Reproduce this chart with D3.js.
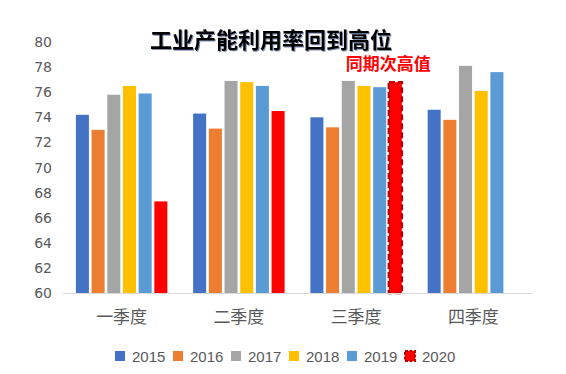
<!DOCTYPE html>
<html>
<head>
<meta charset="utf-8">
<script src="https://cdn.jsdelivr.net/npm/d3@7"></script>
<style>
  html, body { margin: 0; padding: 0; background: #fff; }
  svg { display: block; }
  text { font-family: "Noto Sans CJK SC", "Liberation Sans", sans-serif; }
</style>
</head>
<body>
<script>
// categories and series
const quarters = ["一季度", "二季度", "三季度", "四季度"];
const years = ["2015", "2016", "2017", "2018", "2019", "2020"];
const colors = ["#4472c4", "#ed7d31", "#a5a5a5", "#ffc000", "#5b9bd5", "#ff0000"];

const v2015 = [74.2, 74.3, 74.0, 74.6];
const v2016 = [73.0, 73.1, 73.2, 73.8];
const v2017 = [75.8, 76.9, 76.9, 78.1];
const v2018 = [76.5, 76.8, 76.5, 76.1];
const v2019 = [75.9, 76.5, 76.4, 77.6];
const v2020 = [67.3, 74.5, 76.8, null];
const series = [v2015, v2016, v2017, v2018, v2019, v2020];

const yTicks = [60, 62, 64, 66, 68, 70, 72, 74, 76, 78, 80];

const title = "工业产能利用率回到高位";
const note = "同期次高值";

const width = 566;
const height = 374;
const plot = { left: 63, right: 532, top: 42, bottom: 293 };

const svg = d3.select("body").append("svg").attr("width", width).attr("height", height);

const defs = svg.append("defs");
defs.append("filter")
  .attr("id", "shadow")
  .attr("x", "-5%").attr("y", "-20%").attr("width", "110%").attr("height", "140%")
  .append("feDropShadow")
  .attr("dx", 1).attr("dy", 1).attr("stdDeviation", 0.6)
  .attr("flood-color", "#1f3864").attr("flood-opacity", 0.55);

// scales
const x0 = d3.scaleBand().domain(quarters).range([plot.left, plot.right])
  .paddingInner(0.22).paddingOuter(0.11);
const x1 = d3.scaleBand().domain(years).range([0, x0.bandwidth()]).paddingInner(0.17);
const y = d3.scaleLinear().domain([60, 80]).range([plot.bottom, plot.top]);

// y axis labels
svg.append("g")
  .selectAll("text")
  .data(yTicks)
  .join("text")
  .attr("x", 52)
  .attr("y", (d) => y(d))
  .attr("dy", "0.36em")
  .attr("text-anchor", "end")
  .attr("fill", "#595959")
  .attr("font-size", 14)
  .style("font-family", "'DejaVu Sans', sans-serif")
  .text((d) => d);

// bars
const group = svg.append("g")
  .selectAll("g")
  .data(quarters)
  .join("g")
  .attr("transform", (d) => `translate(${x0(d)},0)`);

group.selectAll("rect")
  .data((q, qi) => years.map((yr, si) => ({ yr, si, qi, v: series[si][qi] })).filter((d) => d.v != null))
  .join("rect")
  .attr("x", (d) => x1(d.yr))
  .attr("y", (d) => y(d.v))
  .attr("width", x1.bandwidth())
  .attr("height", (d) => y(60) - y(d.v))
  .attr("fill", (d) => colors[d.si])
  .attr("stroke", (d) => (d.yr === "2020" && d.qi === 2 ? "#c00000" : "none"))
  .attr("stroke-width", 2.5)
  .attr("stroke-dasharray", "6,3");

// x axis line
svg.append("line")
  .attr("x1", plot.left).attr("x2", plot.right)
  .attr("y1", plot.bottom + 0.5).attr("y2", plot.bottom + 0.5)
  .attr("stroke", "#d9d9d9").attr("stroke-width", 1);

// x labels
svg.append("g")
  .selectAll("text")
  .data(quarters)
  .join("text")
  .attr("x", (d) => x0(d) + x0.bandwidth() / 2)
  .attr("y", 323)
  .attr("text-anchor", "middle")
  .attr("fill", "#595959")
  .attr("font-size", 17)
  .text((d) => d);

// title
svg.append("text")
  .attr("x", 271)
  .attr("y", 48)
  .attr("text-anchor", "middle")
  .attr("font-size", 22)
  .attr("font-weight", "bold")
  .attr("fill", "#000")
  .attr("filter", "url(#shadow)")
  .text(title);

// annotation over Q3 2020
svg.append("text")
  .attr("x", x0("三季度") + x1("2020") + x1.bandwidth() / 2 - 7)
  .attr("y", 70)
  .attr("text-anchor", "middle")
  .attr("font-size", 17)
  .attr("font-weight", "bold")
  .attr("fill", "#ff0000")
  .text(note);

// legend
const legend = svg.append("g")
  .selectAll("g")
  .data(years)
  .join("g")
  .attr("transform", (d, i) => `translate(${115 + i * 58},351)`);

legend.append("rect")
  .attr("width", 10)
  .attr("height", 10)
  .attr("fill", (d, i) => colors[i])
  .attr("stroke", (d) => (d === "2020" ? "#c00000" : "none"))
  .attr("stroke-width", 2)
  .attr("stroke-dasharray", "3,1.5");

legend.append("text")
  .attr("x", 17)
  .attr("y", 10.5)
  .attr("fill", "#595959")
  .attr("font-size", 15)
  .style("font-family", "'Liberation Sans', sans-serif")
  .text((d) => d);
</script>
</body>
</html>
